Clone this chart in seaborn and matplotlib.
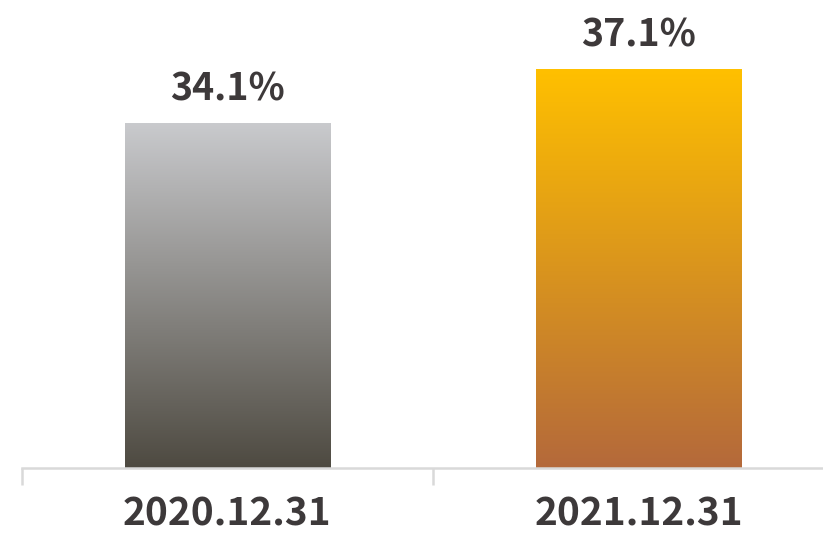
import numpy as np
import pandas as pd
import matplotlib
matplotlib.use("Agg")
import matplotlib.pyplot as plt
from matplotlib.colors import LinearSegmentedColormap
import seaborn as sns

#Data
dates = ["2020.12.31", "2021.12.31"]
ratios = [34.1, 37.1]
value_labels = ["34.1%", "37.1%"]

#Gradient colours for each bar (top, bottom)
grad_colors = [("#c9cacd", "#4e4a41"), ("#ffc000", "#b4693b")]

df = pd.DataFrame({"date": dates, "ratio": ratios})

sns.set_theme(style="white")
plt.rcParams["font.family"] = ["Noto Sans CJK KR", "DejaVu Sans"]

fig = plt.figure(figsize=(8.23, 5.33), dpi=100)
ax = fig.add_axes([22 / 823, 65 / 533, 822 / 823, 468 / 533])

sns.barplot(data=df, x="date", y="ratio", width=0.5, color="white", ax=ax)
ax.set_ylim(15, 40.93)
ax.set_xlim(-0.5, 1.5)

#Gradient fill clipped to each bar
for patch, (top, bottom) in zip(ax.patches, grad_colors):
    cmap = LinearSegmentedColormap.from_list("g", [bottom, top])
    x0, w = patch.get_x(), patch.get_width()
    grad = np.linspace(0, 1, 256).reshape(-1, 1)
    im = ax.imshow(grad, cmap=cmap, aspect="auto", origin="lower",
                   extent=[x0, x0 + w, 15, patch.get_height()], zorder=2)
    im.set_clip_path(patch)
    patch.set_edgecolor("none")

#Value labels
for i, (v, lab) in enumerate(zip(ratios, value_labels)):
    ax.text(i, v + 0.8, lab, ha="center", va="bottom", fontsize=27,
            fontweight="bold", color="#3d393a")

#Axes styling
for s in ["top", "right", "left"]:
    ax.spines[s].set_visible(False)
ax.spines["bottom"].set_color("#d9d9d9")
ax.spines["bottom"].set_linewidth(1.8)
ax.set_yticks([])
ax.set_xlabel("")
ax.set_ylabel("")
ax.set_xticks([-0.5, 0.5, 1.5], minor=True)
ax.tick_params(axis="x", which="major", length=0, pad=19, labelsize=28,
               labelcolor="#3d393a")
ax.tick_params(axis="x", which="minor", length=12, width=1.8, color="#d9d9d9",
               bottom=True)
for t in ax.get_xticklabels():
    t.set_fontweight("bold")

fig.savefig("out.png", dpi=100)
